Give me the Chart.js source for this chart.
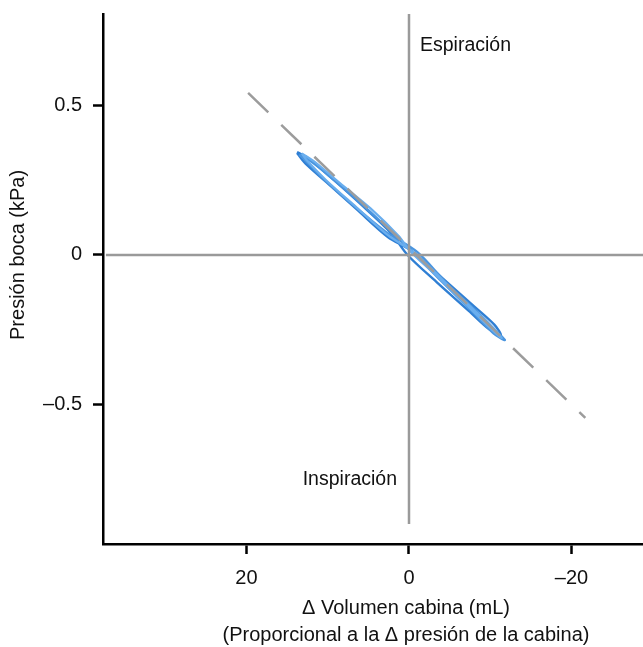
<!DOCTYPE html>
<html>
<head>
<meta charset="utf-8">
<script src="https://cdn.jsdelivr.net/npm/chart.js@4.4.1/dist/chart.umd.min.js"></script>
<style>
  html, body { margin: 0; padding: 0; background: #fff; }
  canvas { display: block; }
</style>
</head>
<body>
<canvas id="loopChart" width="643" height="647"></canvas>
<script>
// ticks
const xTicks = [20, 0, -20];
const yTicks = [-0.5, 0, 0.5];

// dashed reference line
const fitX = [19.8, -21.7];
const fitY = [0.542, -0.545];

// zero lines
const zeroVX = [0, 0];
const zeroVY = [0.806, -0.9];
const zeroHX = [37.3, -28.8];
const zeroHY = [0, 0];

// pressure / volume loops (several breaths)
const loop1X = [13.78, 12.27, 9.69, 5.91, 2.24, 0.15, -3.57, -7.36, -9.88, -11.32, -10.5, -7.98, -4.18, -0.34, 2.61, 6.46, 10.24, 12.76, 13.78];
const loop1Y = [0.344, 0.321, 0.261, 0.169, 0.074, -0.001, -0.095, -0.187, -0.249, -0.268, -0.233, -0.171, -0.079, 0.013, 0.06, 0.153, 0.245, 0.306, 0.341];
const loop2X = [13.5, 11.9, 9.2, 5.4, 1.8, -0.6, -4.0, -7.8, -10.4, -11.8, -11.0, -8.3, -4.6, -1.0, 2.9, 6.8, 10.5, 12.6, 13.5];
const loop2Y = [0.336, 0.31, 0.25, 0.16, 0.068, 0.006, -0.088, -0.19, -0.262, -0.285, -0.262, -0.188, -0.094, 0.01, 0.078, 0.165, 0.254, 0.312, 0.336];
const loop3X = [13.2, 11.3, 8.5, 4.7, 1.3, -0.3, -3.8, -7.5, -10.2, -11.4, -10.8, -8.0, -4.4, -0.8, 2.6, 6.5, 10.2, 12.5, 13.2];
const loop3Y = [0.34, 0.305, 0.24, 0.155, 0.064, 0.008, -0.08, -0.178, -0.25, -0.278, -0.258, -0.184, -0.091, 0.004, 0.066, 0.16, 0.25, 0.314, 0.34];

const pts = (xs, ys) => xs.map((x, i) => ({ x, y: ys[i] }));
const FONT = "'Liberation Sans', Arial, Helvetica, sans-serif";
const fmt = (v) => String(v).replace('-', '\u2013');

const textPlugin = {
  id: 'texts',
  afterDraw(chart) {
    const { ctx, chartArea, scales } = chart;
    const x0 = scales.x.getPixelForValue(0);
    const y0 = scales.y.getPixelForValue(0);
    ctx.save();
    ctx.fillStyle = '#111';
    ctx.textBaseline = 'middle';

    ctx.font = `19.5px ${FONT}`;
    ctx.textAlign = 'left';
    ctx.fillText('Espiración', x0 + 11, scales.y.getPixelForValue(0.70));
    ctx.textAlign = 'right';
    ctx.fillText('Inspiración', x0 - 12, scales.y.getPixelForValue(-0.75));

    ctx.font = `20px ${FONT}`;
    ctx.textAlign = 'center';
    ctx.fillText('\u0394 Volumen cabina (mL)', x0 - 3, chartArea.bottom + 64);
    ctx.fillText('(Proporcional a la \u0394 presión de la cabina)', x0 - 3, chartArea.bottom + 91);

    ctx.translate(18, y0);
    ctx.rotate(-Math.PI / 2);
    ctx.fillText('Presión boca (kPa)', 0, 0);
    ctx.restore();
  },
};

const axisStyle = {
  type: 'linear',
  border: { color: '#000', width: 2.5 },
  grid: { drawOnChartArea: false, tickLength: 10, tickColor: '#000', tickWidth: 2.5 },
  ticks: { color: '#111', font: { family: FONT, size: 20 }, callback: fmt },
};

new Chart(document.querySelector('#loopChart'), {
  type: 'scatter',
  data: {
    datasets: [
      { data: pts(zeroVX, zeroVY), showLine: true, borderColor: '#9a9a9a', borderWidth: 2.5, pointRadius: 0 },
      { data: pts(zeroHX, zeroHY), showLine: true, borderColor: '#9a9a9a', borderWidth: 2.5, pointRadius: 0 },
      { data: pts(fitX, fitY), showLine: true, borderColor: '#9c9c9c', borderWidth: 2.5, borderDash: [28, 18], pointRadius: 0 },
      { data: pts(loop3X, loop3Y), showLine: true, borderColor: '#6aaeee', borderWidth: 2.2, tension: 0.3, pointRadius: 0 },
      { data: pts(loop2X, loop2Y), showLine: true, borderColor: '#4a95df', borderWidth: 2.4, tension: 0.3, pointRadius: 0 },
      { data: pts(loop1X, loop1Y), showLine: true, borderColor: '#2f7fd4', borderWidth: 2.4, tension: 0.3, pointRadius: 0 },
    ],
  },
  options: {
    responsive: false,
    animation: false,
    devicePixelRatio: 1,
    layout: { padding: { top: 14, right: 0, left: 0, bottom: 0 } },
    plugins: { legend: { display: false }, tooltip: { enabled: false } },
    scales: {
      x: {
        ...axisStyle,
        ticks: { ...axisStyle.ticks, padding: 12 },
        reverse: true,
        min: -28.8,
        max: 37.66,
        afterBuildTicks: (scale) => { scale.ticks = xTicks.map((value) => ({ value })); },
        afterFit: (scale) => { scale.height = 103; scale.paddingLeft = 0; scale.paddingRight = 0; },
      },
      y: {
        ...axisStyle,
        ticks: { ...axisStyle.ticks, padding: 11 },
        min: -0.967,
        max: 0.806,
        afterBuildTicks: (scale) => { scale.ticks = yTicks.map((value) => ({ value })); },
        afterFit: (scale) => { scale.width = 103; scale.paddingTop = 0; scale.paddingBottom = 0; },
      },
    },
  },
  plugins: [textPlugin],
});
</script>
</body>
</html>
